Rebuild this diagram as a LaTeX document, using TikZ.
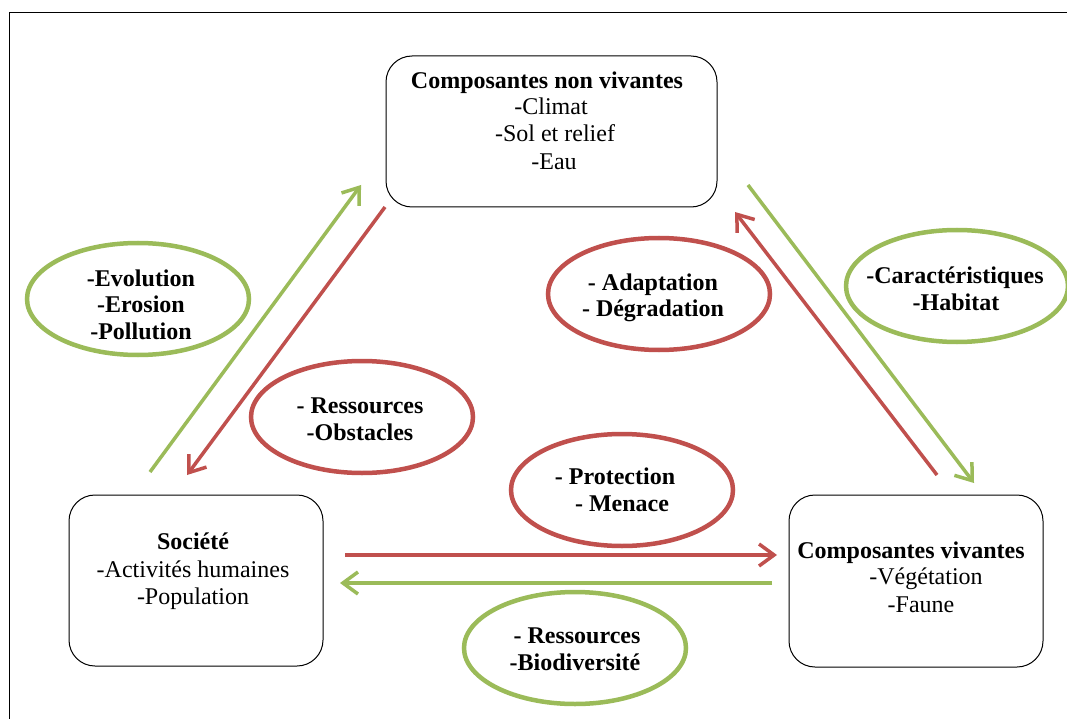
\documentclass[tikz,border=0pt]{standalone}
\usepackage{fontspec}
\setmainfont{Liberation Serif}
\usetikzlibrary{shapes.geometric,arrows.meta}
\definecolor{cred}{HTML}{C0504D}
\definecolor{cgreen}{HTML}{9BBB59}
\tikzset{
  box/.style={draw=black, rounded corners=26pt, line width=1pt, inner sep=0pt},
  oval/.style={draw, ellipse, line width=4.5pt, minimum width=222pt, minimum height=112pt, inner sep=0pt},
  txt/.style={font=\fontsize{24}{27}\selectfont, inner sep=0pt, anchor=base},
  btxt/.style={font=\bfseries\fontsize{24}{27}\selectfont, inner sep=0pt, anchor=base},
  arr/.style={line width=3.5pt, -{Straight Barb[length=15pt,width=22pt]}},
}
\begin{document}
\begin{tikzpicture}[x=1pt,y=-1pt]
\useasboundingbox (0,0) rectangle (1067,719);
\fill[white] (0,0) rectangle (1067,719);
% frame
\draw[line width=1pt] (9,719) -- (9,13) -- (1067,13);

% boxes
\node[box, minimum width=331pt, minimum height=151pt] (abio) at (551.5,131.5) {};
\node[box, minimum width=254pt, minimum height=171pt] (soc) at (196,580.5) {};
\node[box, minimum width=254pt, minimum height=172pt] (viv) at (916,581) {};

\node[btxt] (abio1) at (547,89) {Composantes non vivantes};
\node[txt] (abio2) at (551,115) {-Climat};
\node[txt] (abio3) at (555,142) {-Sol et relief};
\node[txt] (abio4) at (554,170) {-Eau};

\node[btxt] (soc1) at (193,549) {Société};
\node[txt] (soc2) at (193,577) {-Activités humaines};
\node[txt] (soc3) at (193,604) {-Population};

\node[btxt] (viv1) at (911,558) {Composantes vivantes};
\node[txt] (viv2) at (926,584) {-Végétation};
\node[txt] (viv3) at (921,612) {-Faune};

% ellipses
\node[oval, draw=cgreen] (e1) at (138,299) {};
\node[btxt] (e1a) at (141,286) {-Evolution};
\node[btxt] (e1b) at (141,312) {-Erosion};
\node[btxt] (e1c) at (141,339) {-Pollution};

\node[oval, draw=cred] (e2) at (362,417) {};
\node[btxt] (e2a) at (360,413) {- Ressources};
\node[btxt] (e2b) at (360,440) {-Obstacles};

\node[oval, draw=cred] (e3) at (659,294) {};
\node[btxt] (e3a) at (653,290) {- Adaptation};
\node[btxt] (e3b) at (653,316) {- Dégradation};

\node[oval, draw=cgreen] (e4) at (957,286) {};
\node[btxt] (e4a) at (955,283) {-Caractéristiques};
\node[btxt] (e4b) at (956,310) {-Habitat};

\node[oval, draw=cred] (e5) at (622,490) {};
\node[btxt] (e5a) at (615,484) {- Protection};
\node[btxt] (e5b) at (622,511) {- Menace};

\node[oval, draw=cgreen] (e6) at (575,648) {};
\node[btxt] (e6a) at (577,643) {- Ressources};
\node[btxt] (e6b) at (575,670) {-Biodiversité};

% arrow end points
\coordinate (g1s) at (150,472);
\coordinate (g1e) at (361,185);
\coordinate (r1s) at (385,207);
\coordinate (r1e) at (187,475);
\coordinate (r2s) at (937,475);
\coordinate (r2e) at (735,212);
\coordinate (g2s) at (748,185);
\coordinate (g2e) at (974,483);
\coordinate (r3s) at (345,555);
\coordinate (r3e) at (777,555);
\coordinate (g3s) at (772,583);
\coordinate (g3e) at (340,583);

\draw[arr, cgreen] (g1s) -- (g1e);
\draw[arr, cred] (r1s) -- (r1e);
\draw[arr, cred] (r2s) -- (r2e);
\draw[arr, cgreen] (g2s) -- (g2e);
\draw[arr, cred] (r3s) -- (r3e);
\draw[arr, cgreen] (g3s) -- (g3e);
\end{tikzpicture}
\end{document}
